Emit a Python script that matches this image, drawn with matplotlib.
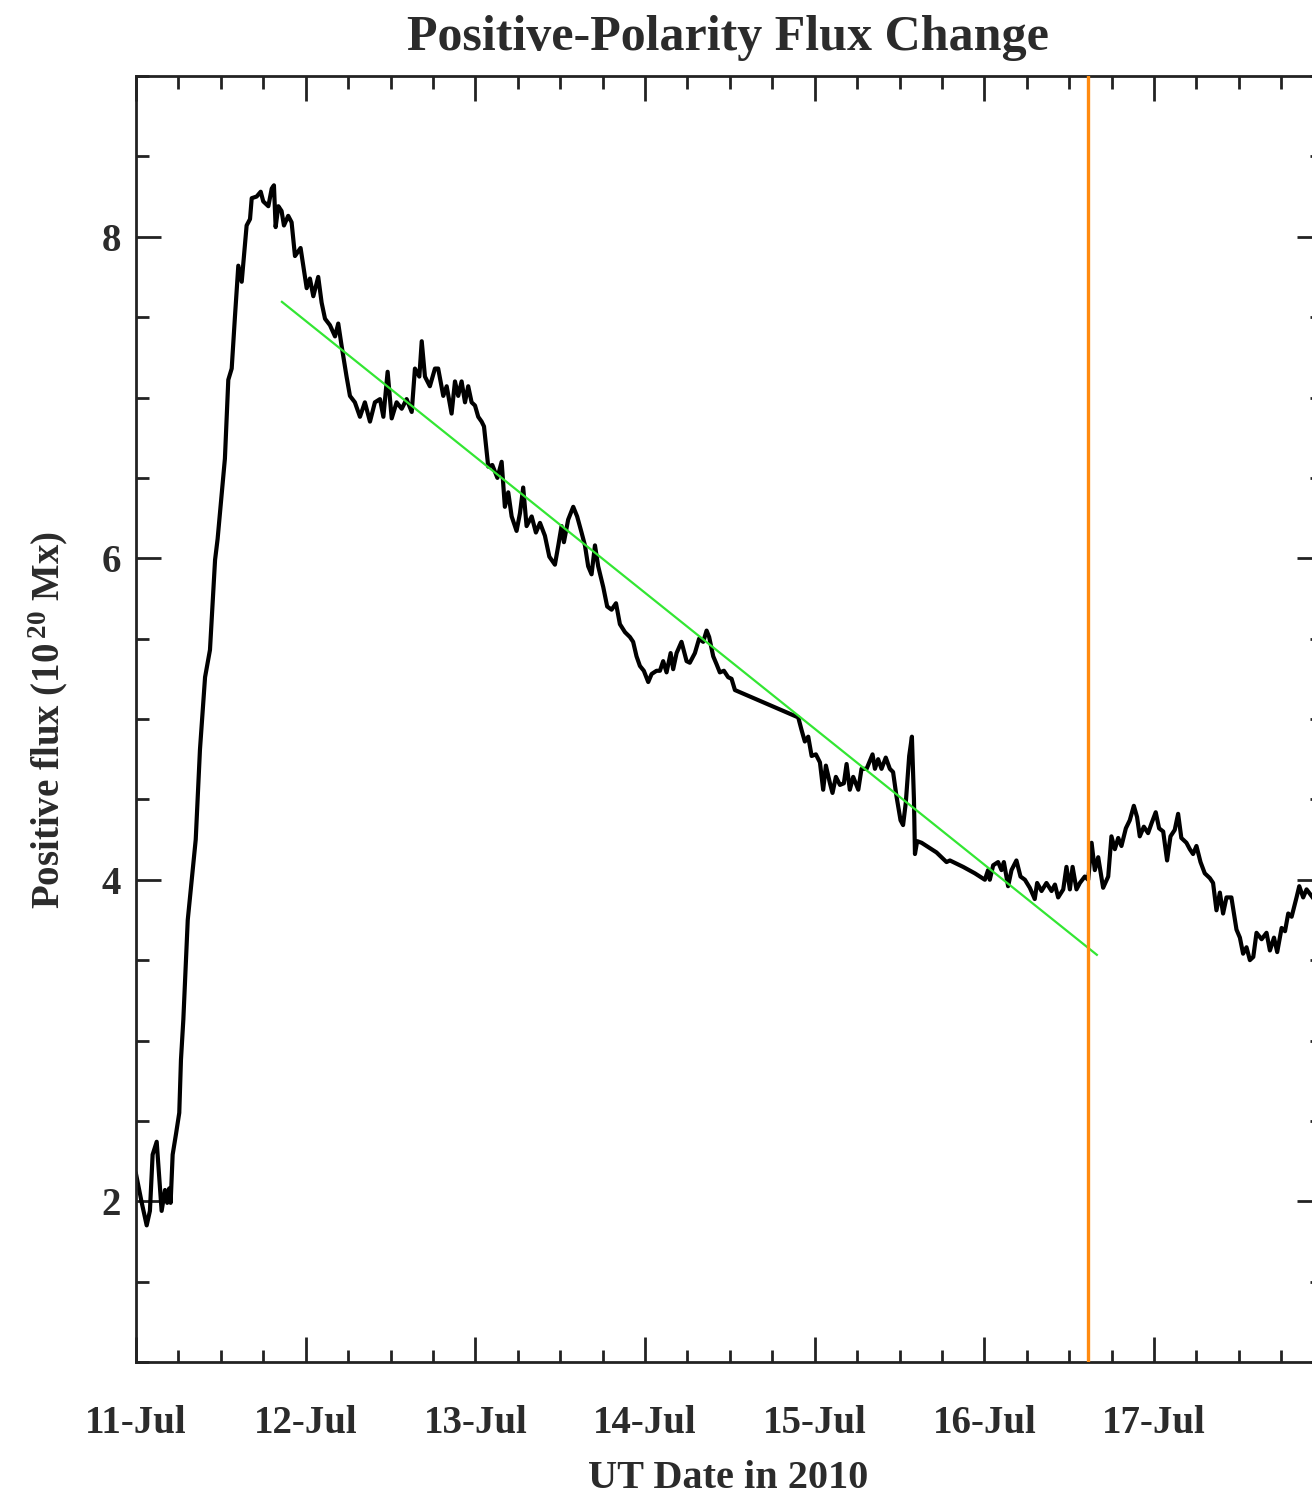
import matplotlib

matplotlib.use("Agg")
import matplotlib.pyplot as plt
from matplotlib.ticker import FixedLocator, MultipleLocator

# time in days since 2010-07-11 00:00 UT, flux in 1e20 Mx
FLUX_DAYS = [
    0.000, 0.034, 0.063, 0.082, 0.098, 0.122, 0.151, 0.171, 0.184, 0.196,
    0.204, 0.216, 0.236, 0.255, 0.265, 0.279, 0.305, 0.352, 0.377, 0.407,
    0.436, 0.466, 0.481, 0.524, 0.544, 0.564, 0.583, 0.603, 0.623, 0.652,
    0.672, 0.682, 0.711, 0.735, 0.750, 0.780, 0.800, 0.813, 0.823, 0.839,
    0.858, 0.872, 0.897, 0.917, 0.937, 0.970, 0.986, 1.006, 1.025, 1.045,
    1.074, 1.094, 1.114, 1.143, 1.173, 1.192, 1.212, 1.241, 1.261, 1.290,
    1.320, 1.349, 1.379, 1.408, 1.438, 1.458, 1.483, 1.507, 1.536, 1.566,
    1.595, 1.625, 1.644, 1.670, 1.684, 1.703, 1.732, 1.762, 1.781, 1.811,
    1.831, 1.860, 1.880, 1.899, 1.919, 1.939, 1.958, 1.978, 1.998, 2.017,
    2.037, 2.051, 2.067, 2.076, 2.100, 2.130, 2.155, 2.174, 2.194, 2.214,
    2.243, 2.263, 2.282, 2.302, 2.332, 2.357, 2.381, 2.410, 2.436, 2.469,
    2.489, 2.508, 2.522, 2.547, 2.577, 2.600, 2.626, 2.646, 2.665, 2.685,
    2.705, 2.724, 2.754, 2.777, 2.803, 2.829, 2.852, 2.882, 2.911, 2.930,
    2.950, 2.970, 2.993, 3.019, 3.039, 3.068, 3.088, 3.107, 3.127, 3.151,
    3.166, 3.186, 3.215, 3.245, 3.264, 3.294, 3.319, 3.343, 3.363, 3.378,
    3.402, 3.422, 3.441, 3.465, 3.490, 3.510, 3.530, 3.903, 3.923, 3.942,
    3.962, 3.982, 4.007, 4.031, 4.050, 4.066, 4.090, 4.105, 4.125, 4.149,
    4.172, 4.188, 4.207, 4.227, 4.257, 4.276, 4.306, 4.341, 4.355, 4.374,
    4.394, 4.419, 4.443, 4.462, 4.482, 4.506, 4.521, 4.537, 4.557, 4.573,
    4.585, 4.591, 4.604, 4.630, 4.718, 4.777, 4.797, 4.875, 4.944, 4.973,
    5.003, 5.022, 5.032, 5.052, 5.081, 5.101, 5.115, 5.140, 5.160, 5.189,
    5.213, 5.239, 5.268, 5.297, 5.311, 5.337, 5.366, 5.396, 5.416, 5.435,
    5.465, 5.484, 5.504, 5.520, 5.543, 5.563, 5.592, 5.612, 5.632, 5.651,
    5.671, 5.700, 5.730, 5.749, 5.769, 5.789, 5.808, 5.834, 5.857, 5.881,
    5.900, 5.916, 5.940, 5.965, 5.985, 6.010, 6.030, 6.054, 6.077, 6.097,
    6.122, 6.142, 6.161, 6.191, 6.211, 6.230, 6.250, 6.274, 6.299, 6.329,
    6.348, 6.368, 6.388, 6.407, 6.427, 6.456, 6.486, 6.506, 6.525, 6.545,
    6.565, 6.585, 6.604, 6.634, 6.663, 6.683, 6.707, 6.726, 6.752, 6.772,
    6.791, 6.811, 6.840, 6.856, 6.879, 6.899, 6.935,
]
FLUX_VALUES = [
    2.17, 1.99, 1.85, 1.94, 2.29, 2.37, 1.94, 2.07, 1.99, 2.08,
    1.99, 2.29, 2.42, 2.55, 2.88, 3.13, 3.75, 4.25, 4.81, 5.26,
    5.43, 5.99, 6.12, 6.62, 7.11, 7.18, 7.50, 7.82, 7.72, 8.07,
    8.11, 8.24, 8.25, 8.28, 8.22, 8.19, 8.30, 8.32, 8.06, 8.19,
    8.16, 8.07, 8.13, 8.09, 7.88, 7.93, 7.82, 7.68, 7.74, 7.63,
    7.75, 7.59, 7.49, 7.45, 7.38, 7.46, 7.32, 7.13, 7.01, 6.97,
    6.88, 6.97, 6.85, 6.97, 6.99, 6.88, 7.16, 6.87, 6.97, 6.93,
    6.99, 6.91, 7.18, 7.13, 7.35, 7.13, 7.07, 7.18, 7.18, 7.01,
    7.07, 6.90, 7.10, 7.01, 7.10, 6.97, 7.07, 6.97, 6.95, 6.88,
    6.85, 6.82, 6.66, 6.57, 6.58, 6.50, 6.60, 6.32, 6.41, 6.26,
    6.17, 6.28, 6.44, 6.20, 6.26, 6.16, 6.22, 6.14, 6.01, 5.96,
    6.08, 6.20, 6.10, 6.24, 6.32, 6.26, 6.16, 6.08, 5.95, 5.90,
    6.08, 5.95, 5.82, 5.70, 5.68, 5.72, 5.59, 5.54, 5.51, 5.48,
    5.39, 5.33, 5.30, 5.23, 5.28, 5.30, 5.30, 5.36, 5.29, 5.41,
    5.31, 5.41, 5.48, 5.36, 5.35, 5.41, 5.50, 5.48, 5.55, 5.51,
    5.39, 5.34, 5.29, 5.30, 5.26, 5.25, 5.18, 5.01, 4.93, 4.86,
    4.89, 4.77, 4.78, 4.73, 4.56, 4.71, 4.60, 4.54, 4.64, 4.59,
    4.60, 4.72, 4.56, 4.64, 4.56, 4.69, 4.69, 4.78, 4.69, 4.75,
    4.69, 4.76, 4.69, 4.67, 4.52, 4.37, 4.34, 4.48, 4.77, 4.89,
    4.50, 4.16, 4.24, 4.23, 4.17, 4.11, 4.12, 4.08, 4.04, 4.02,
    4.00, 4.06, 4.00, 4.09, 4.11, 4.06, 4.11, 3.96, 4.06, 4.12,
    4.02, 4.00, 3.95, 3.88, 3.98, 3.93, 3.98, 3.93, 3.97, 3.89,
    3.94, 4.08, 3.94, 4.08, 3.94, 3.98, 4.02, 4.00, 4.23, 4.06,
    4.14, 3.95, 4.02, 4.27, 4.19, 4.26, 4.21, 4.32, 4.37, 4.46,
    4.39, 4.27, 4.33, 4.29, 4.35, 4.42, 4.32, 4.30, 4.12, 4.27,
    4.31, 4.41, 4.26, 4.23, 4.19, 4.16, 4.21, 4.11, 4.04, 4.01,
    3.98, 3.81, 3.92, 3.79, 3.89, 3.89, 3.69, 3.64, 3.54, 3.58,
    3.50, 3.52, 3.67, 3.63, 3.67, 3.56, 3.64, 3.55, 3.70, 3.68,
    3.79, 3.77, 3.89, 3.96, 3.89, 3.94, 3.89,
]

# linear decay fit and the marked event time
FIT_DAYS = [0.86, 5.663]
FIT_VALUES = [7.595, 3.533]
EVENT_DAY = 5.611

DATE_TICKS = [0, 1, 2, 3, 4, 5, 6]
DATE_LABELS = ["11-Jul", "12-Jul", "13-Jul", "14-Jul", "15-Jul", "16-Jul", "17-Jul"]
FLUX_TICKS = [2, 4, 6, 8]

TEXT_COLOR = "#2b2b2b"

plt.rcParams["font.family"] = ["Liberation Serif", "DejaVu Serif"]
plt.rcParams["font.weight"] = "bold"
plt.rcParams["mathtext.default"] = "regular"

fig = plt.figure(figsize=(13.12, 14.98), dpi=100)
ax = fig.add_axes([136 / 1312, 136 / 1498, (1322 - 136) / 1312, (1362 - 76) / 1498])

ax.plot(FLUX_DAYS, FLUX_VALUES, color="black", linewidth=3.0, zorder=2)
ax.plot(FIT_DAYS, FIT_VALUES, color="#33e633", linewidth=1.6, zorder=3)
ax.axvline(EVENT_DAY, color="#ff8a10", linewidth=2.4, zorder=4)

ax.set_xlim(0, 6.99)
ax.set_ylim(1, 9)

ax.xaxis.set_major_locator(FixedLocator(DATE_TICKS))
ax.set_xticklabels(DATE_LABELS)
ax.xaxis.set_minor_locator(MultipleLocator(0.25))
ax.yaxis.set_major_locator(FixedLocator(FLUX_TICKS))
ax.yaxis.set_minor_locator(MultipleLocator(0.5))

ax.tick_params(which="both", direction="in", top=True, right=True,
               width=2.0, color="#222222", labelcolor=TEXT_COLOR, labelsize=28)
ax.tick_params(which="major", length=18)
ax.tick_params(which="minor", length=9)
ax.tick_params(axis="x", which="major", pad=31)
ax.tick_params(axis="y", which="major", pad=11)

for spine in ax.spines.values():
    spine.set_linewidth(2.0)
    spine.set_color("#222222")

fig.text(728 / 1312, 1 - 38 / 1498, "Positive-Polarity Flux Change",
         ha="center", va="center", fontsize=36, fontweight="bold", color=TEXT_COLOR)
fig.text(728 / 1312, 1 - 1478 / 1498, "UT Date in 2010",
         ha="center", va="center", fontsize=29, fontweight="bold", color=TEXT_COLOR)
fig.text(48 / 1312, 1 - 720 / 1498, r"Positive flux (10$^{\,20}$ Mx)",
         ha="center", va="center", rotation=90, fontsize=28, fontweight="bold",
         color=TEXT_COLOR)

fig.savefig("out.png", dpi=100)
